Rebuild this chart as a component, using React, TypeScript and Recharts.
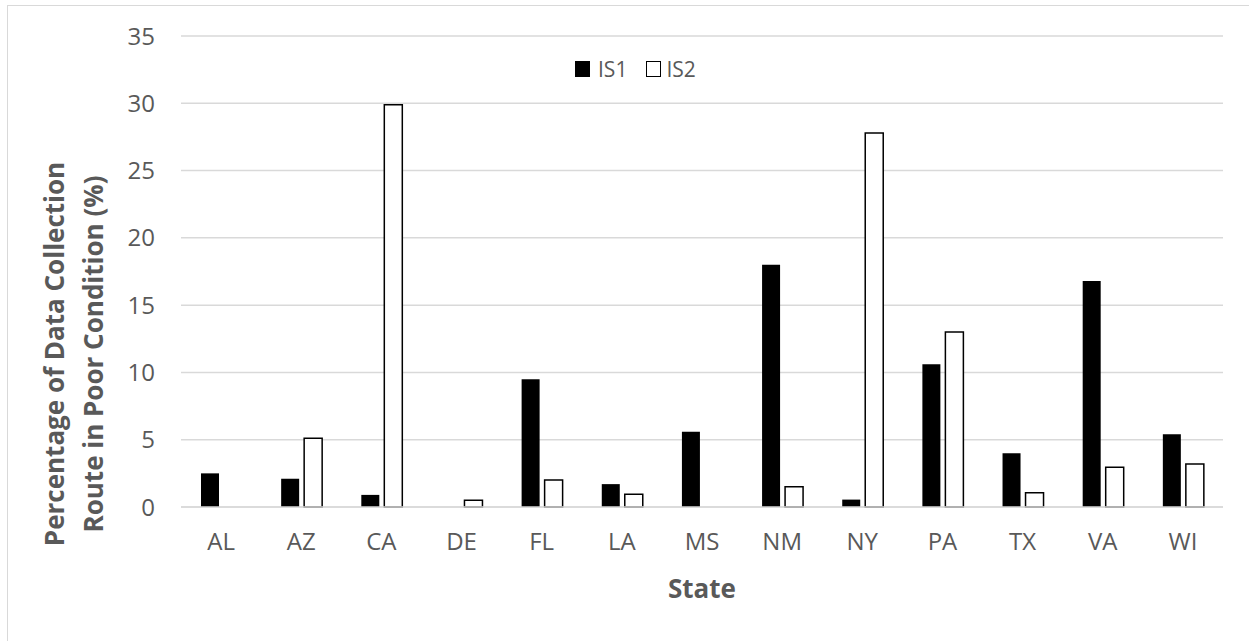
import { BarChart, Bar, XAxis, YAxis, CartesianGrid } from 'recharts'

const states = ['AL', 'AZ', 'CA', 'DE', 'FL', 'LA', 'MS', 'NM', 'NY', 'PA', 'TX', 'VA', 'WI']
const is1 = [2.5, 2.1, 0.9, 0, 9.5, 1.7, 5.6, 18.0, 0.55, 10.6, 4.0, 16.8, 5.4]
const is2 = [0, 5.1, 29.9, 0.5, 2.0, 0.95, 0, 1.5, 27.8, 13.0, 1.05, 2.95, 3.2]
const yTicks = [0, 5, 10, 15, 20, 25, 30, 35]
const seriesNames = ['IS1', 'IS2']

const data = states.map((s, i) => ({ state: s, IS1: is1[i], IS2: is2[i] }))

const TEXT = '#595959'
const GRID = '#d9d9d9'
const FONT = '"Open Sans", sans-serif'

function LegendBox() {
  const item = (name: string, filled: boolean, gap: number) => (
    <div key={name} style={{ display: 'flex', alignItems: 'center', marginRight: 19 }}>
      <span
        style={{
          width: filled ? 15 : 13,
          height: filled ? 16 : 14,
          background: filled ? '#000' : '#fff',
          border: filled ? 'none' : '1.5px solid #000',
          marginRight: gap,
          display: 'inline-block',
        }}
      />
      <span style={{ fontSize: 21, color: TEXT, fontFamily: FONT, lineHeight: '20px' }}>{name}</span>
    </div>
  )
  return (
    <div style={{ position: 'absolute', left: 575, top: 59, display: 'flex' }}>
      {item(seriesNames[0], true, 8)}
      {item(seriesNames[1], false, 5)}
    </div>
  )
}

function YTitle() {
  return (
    <g fontFamily={FONT} fontWeight={700} fontSize={26} fill={TEXT} textAnchor="middle">
      <text x={54} y={354} transform="rotate(-90, 54, 354)" dominantBaseline="central">
        Percentage of Data Collection
      </text>
      <text x={93} y={354} transform="rotate(-90, 93, 354)" dominantBaseline="central">
        Route in Poor Condition (%)
      </text>
    </g>
  )
}

export default function App() {
  return (
    <div style={{ position: 'absolute', left: 0, top: 0, width: 1249, height: 641, background: '#fff' }}>
      <div
        style={{
          position: 'absolute',
          left: 7,
          top: 5,
          right: 0,
          bottom: 0,
          borderTop: `1px solid ${GRID}`,
          borderLeft: `1px solid ${GRID}`,
        }}
      />
      <BarChart
        width={1249}
        height={641}
        data={data}
        barGap={5}
        margin={{ top: 36, right: 26, bottom: 84, left: 111 }}
        style={{ position: 'absolute', left: 0, top: 0 }}
      >
        <CartesianGrid vertical={false} stroke={GRID} strokeWidth={1.5} />
        <XAxis
          dataKey="state"
          height={50}
          axisLine={{ stroke: GRID, strokeWidth: 1.5 }}
          tickLine={false}
          tickSize={0}
          tickMargin={26}
          tick={{ fontSize: 24, fill: TEXT, fontFamily: FONT }}
          label={(props: any) => {
            const vb = props.viewBox
            return (
              <text
                x={vb.x + vb.width / 2}
                y={598}
                textAnchor="middle"
                fontFamily={FONT}
                fontWeight={700}
                fontSize={26}
                fill={TEXT}
              >
                State
              </text>
            )
          }}
        />
        <YAxis
          width={70}
          domain={[0, 35]}
          ticks={yTicks}
          axisLine={false}
          tickLine={false}
          tickSize={0}
          tickMargin={26}
          tick={{ fontSize: 24, fill: TEXT, fontFamily: FONT }}
        />
        <Bar dataKey="IS1" name={seriesNames[0]} fill="#000" barSize={18} isAnimationActive={false} />
        <Bar
          dataKey="IS2"
          name={seriesNames[1]}
          fill="#fff"
          stroke="#000"
          strokeWidth={1.5}
          barSize={18}
          isAnimationActive={false}
        />
        <YTitle />
      </BarChart>
      <LegendBox />
    </div>
  )
}
